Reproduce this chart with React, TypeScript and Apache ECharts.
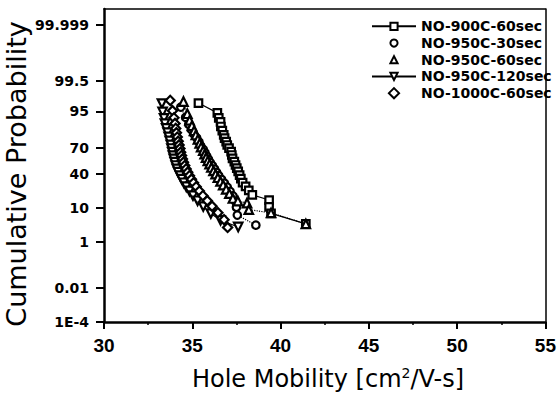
import React, { useEffect, useRef } from "react";
import * as echarts from "echarts";

// ---- data: [hole mobility (cm2/V-s), cumulative probability (%)] ----
const no900C60s: number[][] = [
  [35.35, 97.1], [36.42, 94.5], [36.5, 92.6], [36.6, 90.7], [36.62, 88.2], [36.7, 85.5],
  [36.78, 82.4], [36.83, 79.8], [36.92, 76.6], [36.98, 73.3], [37.08, 70.1], [37.2, 66.3],
  [37.24, 62.5], [37.28, 58.6], [37.38, 54.8], [37.45, 50.6], [37.52, 46.9], [37.6, 42.8],
  [37.68, 38.5], [37.75, 34.6], [37.85, 30.2], [38.02, 26.3], [38.2, 22.5], [38.4, 18.6],
  [39.35, 14.7], [39.35, 10.4], [39.46, 7.3], [41.43, 3.8],
];
const no950C30s: number[][] = [
  [34.35, 96.2], [34.62, 92.8], [34.8, 89.5], [34.95, 86.2], [35.08, 83.0], [35.25, 79.8],
  [35.38, 76.2], [35.48, 72.4], [35.62, 68.8], [35.72, 65.0], [35.82, 61.2], [35.92, 57.3],
  [36.02, 53.5], [36.14, 49.7], [36.26, 45.7], [36.38, 41.6], [36.5, 37.8], [36.66, 33.6],
  [36.82, 29.5], [36.98, 25.6], [37.14, 21.6], [37.3, 17.8], [37.45, 13.8], [37.5, 10.2],
  [37.55, 6.6], [38.6, 3.5],
];
const no950C60s: number[][] = [
  [34.5, 97.4], [34.72, 94.2], [34.85, 91.5], [34.98, 88.6], [35.1, 85.4], [35.2, 82.3],
  [35.32, 78.7], [35.42, 75.0], [35.5, 71.2], [35.62, 67.5], [35.7, 63.4], [35.78, 59.5],
  [35.88, 55.6], [35.98, 51.7], [36.08, 47.6], [36.2, 43.5], [36.32, 39.6], [36.45, 35.5],
  [36.6, 31.4], [36.75, 27.6], [36.92, 23.5], [37.1, 19.6], [37.3, 15.8], [37.58, 14.0],
  [38.1, 12.7], [38.2, 9.0], [39.46, 7.5], [41.43, 3.8],
];
const no950C120s: number[][] = [
  [33.28, 97.0], [33.32, 94.8], [33.4, 92.4], [33.45, 89.8], [33.52, 87.0], [33.6, 84.1],
  [33.66, 80.8], [33.72, 77.2], [33.78, 73.5], [33.82, 69.7], [33.86, 65.8], [33.9, 61.9],
  [33.95, 57.9], [34.0, 54.0], [34.06, 50.0], [34.12, 46.0], [34.2, 42.0], [34.3, 38.0],
  [34.4, 34.0], [34.52, 30.0], [34.66, 26.0], [34.84, 22.0], [35.04, 18.0], [35.3, 14.2],
  [35.62, 10.6], [36.05, 7.2], [36.6, 4.8], [37.6, 3.1],
];
const no1000C60s: number[][] = [
  [33.75, 97.6], [33.88, 95.2], [33.96, 92.6], [34.02, 89.9], [34.06, 87.0], [34.1, 84.0],
  [34.15, 80.6], [34.2, 77.0], [34.25, 73.3], [34.3, 69.6], [34.34, 65.7], [34.39, 61.8],
  [34.44, 57.8], [34.5, 53.9], [34.57, 49.9], [34.65, 45.9], [34.74, 41.9], [34.84, 37.9],
  [34.95, 33.9], [35.07, 29.9], [35.22, 25.9], [35.4, 21.9], [35.6, 18.0], [35.85, 14.2],
  [36.12, 10.8], [36.45, 7.6], [36.8, 5.0], [37.0, 3.0],
];

const seriesNames = [
  "NO-900C-60sec",
  "NO-950C-30sec",
  "NO-950C-60sec",
  "NO-950C-120sec",
  "NO-1000C-60sec",
];

const xTicks = [30, 35, 40, 45, 50, 55];
const yTickPercents = [99.999, 99.5, 95, 70, 40, 10, 1, 0.01, 0.0001];
const yTickLabels = ["99.999", "99.5", "95", "70", "40", "10", "1", "0.01", "1E-4"];
const yRangePercent = [0.0001, 99.9999];

// inverse standard normal CDF (Acklam) — the probability-scale transform
function probit(p: number): number {
  const a = [-3.969683028665376e1, 2.209460984245205e2, -2.759285104469687e2, 1.38357751867269e2, -3.066479806614716e1, 2.506628277459239];
  const b = [-5.447609879822406e1, 1.615858368580409e2, -1.556989798598866e2, 6.680131188771972e1, -1.328068155288572e1];
  const c = [-7.784894002430293e-3, -3.223964580411365e-1, -2.400758277161838, -2.549732539343734, 4.374664141464968, 2.938163982698783];
  const d = [7.784695709041462e-3, 3.224671290700398e-1, 2.445134137142996, 3.754408661907416];
  const pl = 0.02425;
  if (p < pl) {
    const q = Math.sqrt(-2 * Math.log(p));
    return (((((c[0] * q + c[1]) * q + c[2]) * q + c[3]) * q + c[4]) * q + c[5]) / ((((d[0] * q + d[1]) * q + d[2]) * q + d[3]) * q + 1);
  }
  if (p > 1 - pl) {
    const q = Math.sqrt(-2 * Math.log(1 - p));
    return -(((((c[0] * q + c[1]) * q + c[2]) * q + c[3]) * q + c[4]) * q + c[5]) / ((((d[0] * q + d[1]) * q + d[2]) * q + d[3]) * q + 1);
  }
  const q = p - 0.5;
  const r = q * q;
  return ((((((a[0] * r + a[1]) * r + a[2]) * r + a[3]) * r + a[4]) * r + a[5]) * q) / (((((b[0] * r + b[1]) * r + b[2]) * r + b[3]) * r + b[4]) * r + 1);
}

const zOf = (pct: number) => probit(pct / 100);
const yTickZ = yTickPercents.map(zOf);

const TICK_FONT = "DejaVu Sans";

function makeSeries(name: string, data: number[][], symbol: string, rotate: number, size: number, lineType: string) {
  return {
    type: "line",
    name,
    data: data.map(([m, p]) => [m, zOf(p)]),
    symbol,
    symbolRotate: rotate,
    symbolSize: size,
    showSymbol: true,
    showAllSymbol: true,
    silent: true,
    lineStyle: { color: "#000", width: 1.2, type: lineType },
    itemStyle: { color: "#fff", borderColor: "#000", borderWidth: 2.2 },
    emphasis: { disabled: true },
  };
}

export default function App() {
  const ref = useRef<HTMLDivElement>(null);
  useEffect(() => {
    if (!ref.current) return;
    const chart = echarts.init(ref.current, null, { renderer: "svg" });
    const option: any = {
      animation: false,
      backgroundColor: "#fff",
      grid: { left: 104, right: 11, top: 9, bottom: 74, containLabel: false },
      xAxis: [
        {
          type: "value",
          min: xTicks[0],
          max: xTicks[xTicks.length - 1],
          interval: 5,
          axisLine: { show: true, onZero: false, lineStyle: { color: "#000", width: 2.5 } },
          axisTick: { show: true, length: 7, lineStyle: { color: "#000", width: 2 } },
          minorTick: { show: true, splitNumber: 2, length: 3, lineStyle: { color: "#000", width: 1.5 } },
          splitLine: { show: false },
          axisLabel: {
            margin: 14,
            color: "#000",
            fontFamily: "Liberation Sans",
            fontWeight: "bold",
            fontSize: 19,
          },
        },
        {
          type: "value",
          position: "top",
          min: xTicks[0],
          max: xTicks[xTicks.length - 1],
          axisLine: { show: true, onZero: false, lineStyle: { color: "#000", width: 1.5 } },
          axisTick: { show: false },
          axisLabel: { show: false },
          splitLine: { show: false },
        },
      ],
      yAxis: [
        {
          type: "value",
          min: zOf(yRangePercent[0]),
          max: zOf(yRangePercent[1]),
          axisLine: { show: true, onZero: false, lineStyle: { color: "#000", width: 2.5 } },
          axisTick: { show: true, length: 8, customValues: yTickZ, lineStyle: { color: "#000", width: 2 } },
          splitLine: { show: false },
          axisLabel: {
            customValues: yTickZ,
            margin: 15,
            color: "#000",
            fontFamily: TICK_FONT,
            fontWeight: "bold",
            fontSize: 14,
            formatter: (v: number) => {
              let best = 0;
              for (let i = 1; i < yTickZ.length; i++) {
                if (Math.abs(yTickZ[i] - v) < Math.abs(yTickZ[best] - v)) best = i;
              }
              return yTickLabels[best];
            },
          },
        },
        {
          type: "value",
          position: "right",
          min: zOf(yRangePercent[0]),
          max: zOf(yRangePercent[1]),
          axisLine: { show: true, onZero: false, lineStyle: { color: "#000", width: 1.5 } },
          axisTick: { show: false },
          axisLabel: { show: false },
          splitLine: { show: false },
        },
      ],
      legend: {
        orient: "vertical",
        left: 366,
        top: 13,
        itemWidth: 44,
        itemHeight: 9,
        itemGap: 0,
        selectedMode: false,
        textStyle: {
          color: "#000",
          fontFamily: TICK_FONT,
          fontWeight: "bold",
          fontSize: 14,
          lineHeight: 16.7,
        },
        data: [
          { name: seriesNames[0] },
          { name: seriesNames[1], lineStyle: { width: 0, opacity: 0 } },
          { name: seriesNames[2], lineStyle: { width: 0, opacity: 0 } },
          { name: seriesNames[3] },
          { name: seriesNames[4], lineStyle: { width: 0, opacity: 0 } },
        ],
      },
      series: [
        makeSeries(seriesNames[0], no900C60s, "rect", 0, 7.5, "solid"),
        makeSeries(seriesNames[1], no950C30s, "circle", 0, 7.5, "dotted"),
        makeSeries(seriesNames[2], no950C60s, "triangle", 0, 8.5, "dotted"),
        makeSeries(seriesNames[3], no950C120s, "triangle", 180, 8.5, "solid"),
        makeSeries(seriesNames[4], no1000C60s, "rect", 45, 6.5, "dotted"),
      ],
      graphic: [
        {
          type: "text",
          x: 328,
          y: 379,
          silent: true,
          style: {
            text: "Hole Mobility [cm{sup|2}/V-s]",
            fill: "#000",
            font: "24px 'DejaVu Sans'",
            align: "center",
            verticalAlign: "middle",
            rich: {
              sup: { fontSize: 14, fontFamily: "DejaVu Sans", verticalAlign: "top", padding: [0, 0, 12, 0], fill: "#000" },
            },
          },
        },
        {
          type: "text",
          x: 16,
          y: 174,
          rotation: Math.PI / 2,
          silent: true,
          style: {
            text: "Cumulative Probability",
            fill: "#000",
            font: "27px 'DejaVu Sans'",
            align: "center",
            verticalAlign: "middle",
          },
        },
      ],
    };
    chart.setOption(option);
    return () => chart.dispose();
  }, []);
  return (
    <div
      ref={ref}
      style={{ position: "absolute", left: 0, top: 0, width: 559, height: 396 }}
    />
  );
}
